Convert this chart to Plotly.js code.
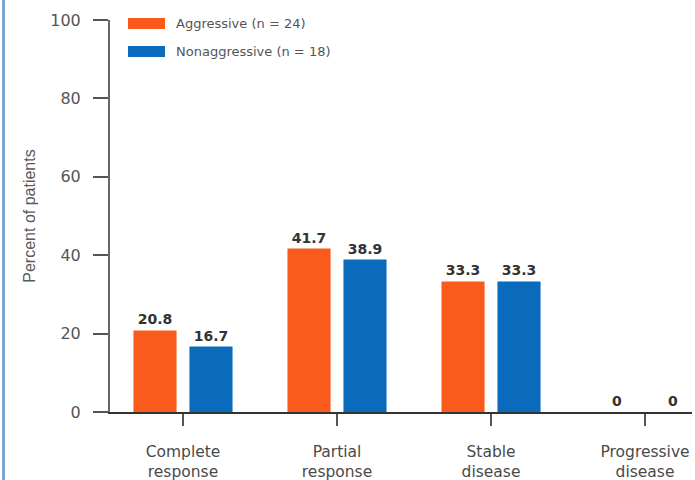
<!DOCTYPE html>
<html>
<head>
<meta charset="utf-8">
<script src="https://cdn.plot.ly/plotly-3.0.1.min.js"></script>
<style>
  html, body { margin: 0; padding: 0; background: #fff; overflow: hidden; }
  #wrap { position: relative; width: 695px; height: 480px; }
  #edge { position: absolute; left: 2px; top: 0; width: 3px; height: 480px; background: #7ba6da; z-index: 2; }
  #chart { position: absolute; left: 0; top: 0; width: 695px; height: 480px; }
</style>
</head>
<body>
<div id="wrap">
  <div id="edge"></div>
  <div id="chart"></div>
</div>
<script>
// Tumour response by group
const categories = ['Complete<br>response', 'Partial<br>response', 'Stable<br>disease', 'Progressive<br>disease'];
const seriesNames = ['Aggressive (n = 24)', 'Nonaggressive (n = 18)'];
const aggressive = [20.8, 41.7, 33.3, 0];
const nonaggressive = [16.7, 38.9, 33.3, 0];
const seriesColors = ['#fa5a1c', '#0a6bbd'];
const yTicks = [0, 20, 40, 60, 80, 100];

const txtFont = 'DejaVu Sans, Liberation Sans, Arial, sans-serif';

function barTrace(name, values, color) {
  return {
    type: 'bar',
    name: name,
    x: categories,
    y: values,
    marker: { color: color, line: { width: 0 } },
    text: values.map(v => String(v)),
    texttemplate: '%{text}',
    textposition: 'outside',
    textangle: 0,
    cliponaxis: false,
    textfont: { family: txtFont, size: 14, color: '#333', weight: 'bold' },
    hoverinfo: 'x+y'
  };
}

const data = [
  barTrace(seriesNames[0], aggressive, seriesColors[0]),
  barTrace(seriesNames[1], nonaggressive, seriesColors[1])
];

// Legend drawn as swatches + labels in the upper-left of the plot
const legendShapes = [];
const legendNotes = [];
seriesNames.forEach((name, i) => {
  const yTop = 1 - (-2 + i * 28) / 392;
  legendShapes.push({
    type: 'rect', xref: 'paper', yref: 'paper',
    x0: 18 / 582, x1: 55 / 582,
    y0: yTop - 11 / 392, y1: yTop,
    fillcolor: seriesColors[i], line: { width: 0 }
  });
  legendNotes.push({
    xref: 'paper', yref: 'paper',
    x: 64 / 582, y: yTop - 5.5 / 392,
    xanchor: 'left', yanchor: 'middle',
    text: name, showarrow: false,
    font: { family: txtFont, size: 13, color: '#555' }
  });
});

const layout = {
  width: 695,
  height: 480,
  margin: { l: 110, r: 3, t: 20, b: 68 },
  paper_bgcolor: '#fff',
  plot_bgcolor: '#fff',
  showlegend: false,
  barmode: 'group',
  bargap: 0.273,
  bargroupgap: 0.23,
  xaxis: {
    type: 'category',
    range: [-0.474, 3.305],
    showline: true,
    linecolor: '#333',
    linewidth: 2,
    ticks: 'outside',
    ticklen: 12,
    tickwidth: 1.5,
    tickcolor: '#555',
    ticklabelstandoff: 12,
    showgrid: false,
    zeroline: false,
    tickfont: { family: txtFont, size: 15.5, color: '#4a4a4a' }
  },
  yaxis: {
    range: [0, 100],
    tickvals: yTicks,
    ticktext: yTicks.map(String),
    showline: true,
    linecolor: '#666',
    linewidth: 2,
    ticks: 'outside',
    ticklen: 15,
    tickwidth: 2,
    tickcolor: '#555',
    ticklabelstandoff: 9,
    showgrid: false,
    zeroline: false,
    tickfont: { family: txtFont, size: 16, color: '#555' },
    title: {
      text: 'Percent of patients',
      standoff: 11,
      font: { family: 'Liberation Sans, Arial, sans-serif', size: 16, color: '#5a5a5a' }
    }
  },
  shapes: legendShapes,
  annotations: legendNotes
};

Plotly.newPlot('chart', data, layout, { displayModeBar: false, staticPlot: true });
</script>
</body>
</html>
